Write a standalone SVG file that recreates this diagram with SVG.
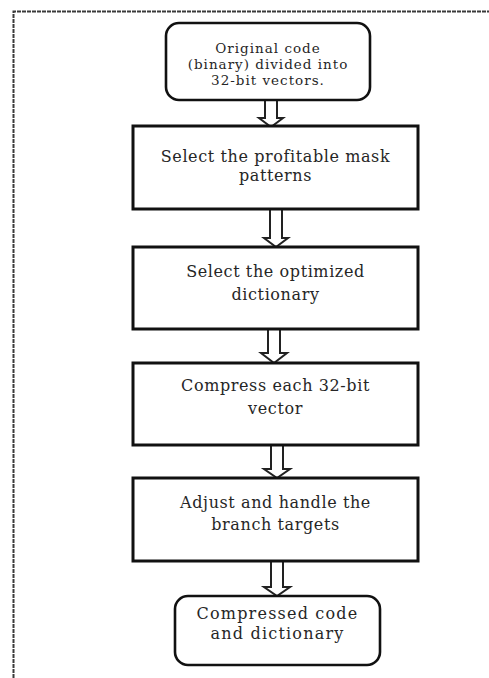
<svg xmlns="http://www.w3.org/2000/svg" width="489" height="678" viewBox="0 0 489 678">
<style>
.frame{fill:none;stroke:#3a3a3a;stroke-width:2;stroke-dasharray:4 1}
.box{fill:#fff;stroke:#111;stroke-width:3}
.term{fill:#fff;stroke:#111;stroke-width:2.6}
.arr{fill:#fff;stroke:#222;stroke-width:2;stroke-linejoin:miter}
text{font-family:"DejaVu Serif","Liberation Serif",serif;font-size:16px;letter-spacing:0.6px;fill:#262626;text-anchor:middle}
.small{font-size:13.5px;letter-spacing:1px}
.endt{letter-spacing:1.2px}
</style>
<rect width="489" height="678" fill="#fff"/>
<path class="frame" d="M13.5,678 V11.5 H489"/>
<g id="connectors">
<polygon class="arr" points="265,100 277,100 277,118 283,118 271,127 259,118 265,118"/>
<polygon class="arr" points="270,209 282,209 282,238 288,238 276,247 264,238 270,238"/>
<polygon class="arr" points="268,329 280,329 280,353 287,353 274,363 261,353 268,353"/>
<polygon class="arr" points="271,445 283,445 283,469 290,469 277,478 264,469 271,469"/>
<polygon class="arr" points="271,561 283,561 283,587 290,587 277,596 264,587 271,587"/>
</g>
<g id="start">
<rect class="term" x="166" y="23" width="204" height="77" rx="13"/>
<text class="small" x="268" y="53">Original code</text>
<text class="small" x="268" y="69">(binary) divided into</text>
<text class="small" x="268" y="85">32-bit vectors.</text>
</g>
<g id="mask">
<rect class="box" x="133" y="126" width="285" height="83"/>
<text x="275.5" y="162">Select the profitable mask</text>
<text x="275.5" y="181">patterns</text>
</g>
<g id="dict">
<rect class="box" x="133" y="247" width="285" height="82"/>
<text x="275.5" y="277">Select the optimized</text>
<text x="275.5" y="300">dictionary</text>
</g>
<g id="compress">
<rect class="box" x="133" y="363" width="285" height="82"/>
<text x="275.5" y="391">Compress each 32-bit</text>
<text x="275.5" y="414">vector</text>
</g>
<g id="branch">
<rect class="box" x="133" y="478" width="285" height="83"/>
<text x="275.5" y="508">Adjust and handle the</text>
<text x="275.5" y="530">branch targets</text>
</g>
<g id="end">
<rect class="term" x="175" y="596" width="205" height="69" rx="13"/>
<text class="endt" x="277.5" y="619">Compressed code</text>
<text class="endt" x="277.5" y="639">and dictionary</text>
</g>
</svg>
